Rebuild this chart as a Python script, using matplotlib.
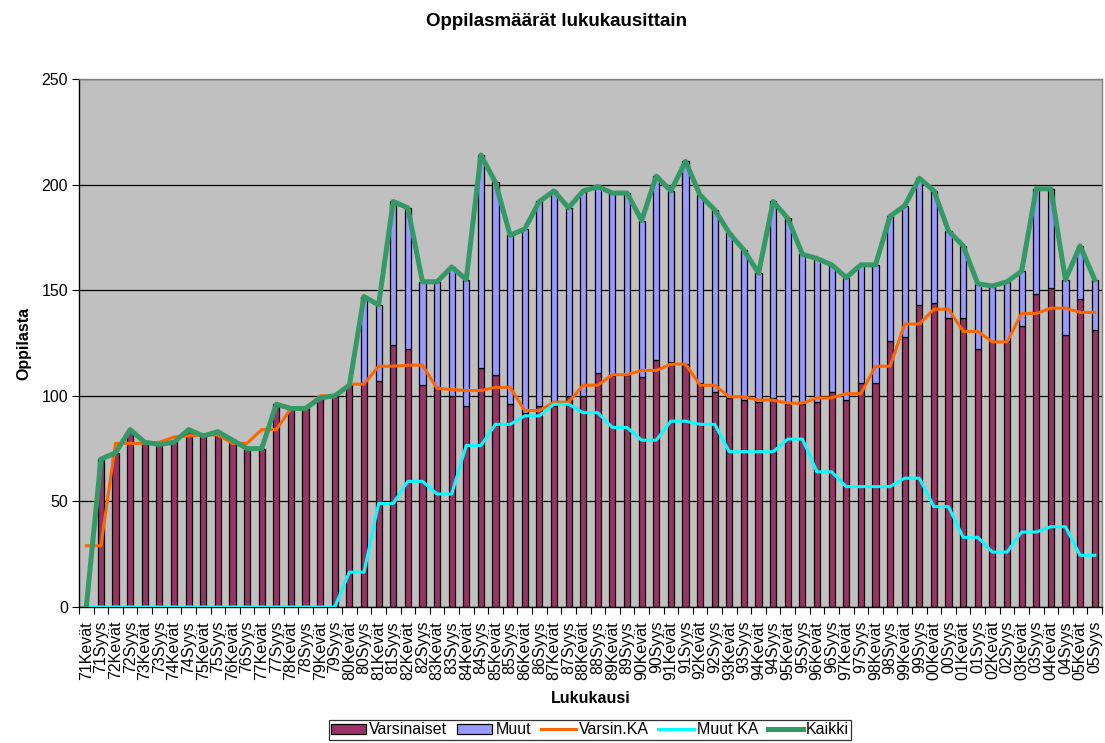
import numpy as np
import matplotlib
matplotlib.use("Agg")
from matplotlib import pyplot as plt
from matplotlib.patches import Patch
from matplotlib.lines import Line2D

plt.rcParams['font.family'] = ['Liberation Sans', 'DejaVu Sans']

# ---Data---
years = ['71', '72', '73', '74', '75', '76', '77', '78', '79', '80', '81', '82',
         '83', '84', '85', '86', '87', '88', '89', '90', '91', '92', '93', '94',
         '95', '96', '97', '98', '99', '00', '01', '02', '03', '04', '05']
terms = [y + t for y in years for t in ('Kevät', 'Syys')]

varsinaiset = [0, 70, 73, 84, 78, 77, 78, 84, 81, 83, 79, 75, 75, 96, 94, 94, 99, 100,
               105, 106, 107, 124, 122, 105, 104, 100, 95, 113, 110, 96, 92, 95, 95, 100,
               100, 111, 110, 110, 109, 117, 116, 115, 106, 102, 99, 98, 97, 99, 96, 96,
               97, 102, 98, 106, 106, 126, 128, 143, 144, 137, 137, 122, 126, 126, 133, 148,
               151, 129, 146, 131]
muut = [0, 0, 0, 0, 0, 0, 0, 0, 0, 0, 0, 0, 0, 0, 0, 0, 0, 0,
        0, 41, 36, 68, 67, 49, 50, 61, 60, 101, 91, 80, 87, 97, 102, 89,
        97, 88, 86, 86, 74, 87, 81, 96, 89, 86, 78, 71, 61, 93, 88, 71,
        68, 60, 58, 56, 56, 59, 62, 60, 53, 41, 34, 31, 26, 28, 26, 50,
        47, 26, 25, 24]
varsin_ka = [29, 29, 77.5, 77.5, 77.5, 78, 80.5, 81, 81.5, 81.5, 77.5, 77.5, 84, 84, 94, 94,
             100, 100, 105.5, 105.5, 114, 114, 114.5, 114.5, 103.5, 103, 102.5, 102.5, 104,
             104, 93, 93, 97, 97, 105, 105, 110, 110, 112, 112, 115, 115, 105, 105, 99.5,
             99.5, 98, 98, 96.5, 96.5, 99, 99, 101, 101, 114, 114, 134, 134, 141, 141,
             130.5, 130.5, 125.5, 125.5, 139, 139, 141.5, 141.5, 139.5, 139.5]
muut_ka = [0, 0, 0, 0, 0, 0, 0, 0, 0, 0, 0, 0, 0, 0, 0, 0, 0, 0,
           16.5, 16.5, 49, 49, 59.5, 59.5, 53.5, 53.5, 76.5, 76.5, 86.5, 86.5, 90.5, 90.5,
           96, 96, 92, 92, 85, 85, 79, 79, 88, 88, 86.5, 86.5, 73.5, 73.5, 73.5, 73.5,
           79.5, 79.5, 64, 64, 57, 57, 57, 57, 61, 61, 47.5, 47.5, 33, 33, 26, 26,
           35.5, 35.5, 38, 38, 24.5, 24.5]
kaikki = [v + m for v, m in zip(varsinaiset, muut)]

c_vars = '#993366'
c_muut = '#9999FF'
c_vka = '#FF6600'
c_mka = '#00FFFF'
c_all = '#339966'

x = np.arange(len(terms))

fig = plt.figure(figsize=(11.05, 7.43), dpi=100)
ax = fig.add_axes([79 / 1105, 1 - 607 / 743, (1102 - 79) / 1105, (607 - 79) / 743])
ax.set_facecolor('#C0C0C0')

ax.bar(x, varsinaiset, width=0.42, color=c_vars, edgecolor='black', linewidth=0.9, zorder=2)
ax.bar(x, muut, width=0.42, bottom=varsinaiset, color=c_muut, edgecolor='black',
       linewidth=0.9, zorder=2)
ax.plot(x, varsin_ka, color=c_vka, linewidth=2.2, zorder=3)
ax.plot(x, muut_ka, color=c_mka, linewidth=2.2, zorder=3)
ax.plot(x, kaikki, color=c_all, linewidth=3.6, zorder=4)

ax.set_xlim(-0.5, len(terms) - 0.5)
ax.set_ylim(0, 250)
ax.set_yticks(range(0, 251, 50))
ax.yaxis.grid(True, color='black', linewidth=0.9)
ax.set_axisbelow(True)

ax.set_xticks(x)
ax.set_xticklabels(terms, rotation=90)
ax.set_xticks(np.arange(-0.5, len(terms), 1), minor=True)
ax.tick_params(axis='x', which='major', length=0, pad=10, labelsize=11.5)
ax.tick_params(axis='x', which='minor', length=5, width=0.8, direction='out')
ax.tick_params(axis='y', length=5, width=0.8, labelsize=11.5, pad=3)

for s in ('top', 'right'):
    ax.spines[s].set_color('#808080')
    ax.spines[s].set_linewidth(1.0)
for s in ('left', 'bottom'):
    ax.spines[s].set_color('black')
    ax.spines[s].set_linewidth(1.0)

ax.set_xlabel('Lukukausi', fontsize=11.5, fontweight='bold', labelpad=8)
ax.set_ylabel('Oppilasta', fontsize=11.5, fontweight='bold', labelpad=7)
fig.text(556 / 1105, 1 - 21 / 743, 'Oppilasmäärät lukukausittain', fontsize=13.5,
         fontweight='bold', ha='center', va='center')

handles = [Patch(facecolor=c_vars, edgecolor='black', linewidth=0.9),
           Patch(facecolor=c_muut, edgecolor='black', linewidth=0.9),
           Line2D([], [], color=c_vka, linewidth=2.2),
           Line2D([], [], color=c_mka, linewidth=2.2),
           Line2D([], [], color=c_all, linewidth=3.6)]
leg = fig.legend(handles, ['Varsinaiset', 'Muut', 'Varsin.KA', 'Muut KA', 'Kaikki'],
                 loc='center', bbox_to_anchor=(590 / 1105, 1 - 730 / 743), ncol=5,
                 fontsize=11.5, frameon=True, fancybox=False, edgecolor='black',
                 handlelength=2.2, handleheight=0.6, handletextpad=0.2,
                 columnspacing=0.6, borderpad=0.15, borderaxespad=0)
leg.get_frame().set_linewidth(0.9)

fig.savefig('out.png', dpi=100)
